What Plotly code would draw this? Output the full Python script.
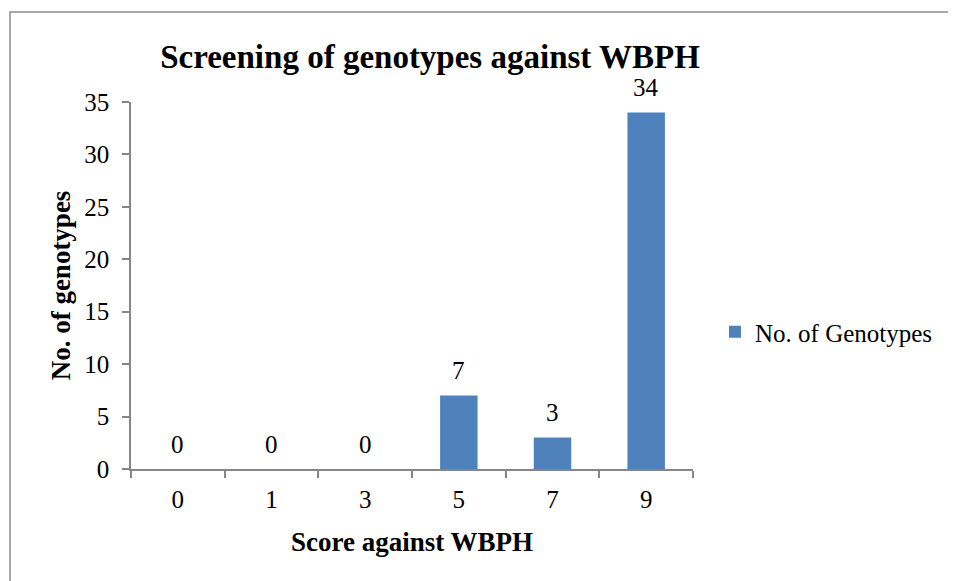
import plotly.graph_objects as go

categories = ["0", "1", "3", "5", "7", "9"]
values = [0, 0, 0, 7, 3, 34]
series_name = "No. of Genotypes"
y_ticks = [0, 5, 10, 15, 20, 25, 30, 35]

# the page body adds an 8px offset; figure is sized to fit the window
W, H = 948, 573
L, R, T, B = 123, 263, 94, 112
pw, ph = W - L - R, H - T - B

font_family = "Liberation Serif, Times New Roman, serif"
axis_col = "#868686"
reg = 25

fig = go.Figure()
fig.add_trace(go.Bar(
    x=categories, y=values, name=series_name,
    marker=dict(color="#4F81BD", line=dict(width=0)),
    showlegend=True,
))

annotations = []
for i, v in enumerate(values):
    annotations.append(dict(
        x=i, y=v, xref="x", yref="y", text=str(v), showarrow=False,
        yanchor="middle", yshift=25,
        font=dict(family=font_family, size=reg, color="black"),
    ))

# chart area outline
shapes = [dict(
    type="rect", xref="paper", yref="paper",
    x0=(2 - L) / pw, x1=(W + 30 - L) / pw,
    y0=-(B + 30) / ph, y1=(H - B - 4) / ph,
    line=dict(color="#8c8c8c", width=1.5), fillcolor="rgba(0,0,0,0)",
    layer="below",
)]

fig.update_layout(
    width=W, height=H,
    margin=dict(l=L, r=R, t=T, b=B),
    paper_bgcolor="white", plot_bgcolor="white",
    font=dict(family=font_family, size=reg, color="black"),
    title=dict(
        text="<b>Screening of genotypes against WBPH</b>",
        font=dict(family=font_family, size=33, color="black"),
        x=422 / W, xanchor="center", y=1 - 48 / H, yanchor="middle",
    ),
    bargap=0.6,
    xaxis=dict(
        type="category", categoryorder="array", categoryarray=categories,
        range=[-0.5, len(categories) - 0.5],
        showline=True, linecolor=axis_col, linewidth=1.5,
        ticks="outside", tickson="boundaries", ticklen=7, tickcolor=axis_col, tickwidth=1.5,
        ticklabelstandoff=7,
        tickfont=dict(family=font_family, size=reg, color="black"),
        showgrid=False, zeroline=False,
        title=dict(text="<b>Score against WBPH</b>", standoff=20,
                   font=dict(family=font_family, size=27, color="black")),
    ),
    yaxis=dict(
        range=[0, 35], tickvals=y_ticks,
        showline=True, linecolor=axis_col, linewidth=1.5,
        ticks="outside", ticklen=7, tickcolor=axis_col, tickwidth=1.5,
        ticklabelstandoff=8,
        tickfont=dict(family=font_family, size=reg, color="black"),
        showgrid=False, zeroline=False,
        title=dict(text="<b>No. of genotypes</b>", standoff=6,
                   font=dict(family=font_family, size=27, color="black")),
    ),
    legend=dict(
        x=(707 - L) / pw, xanchor="left", y=(H - B - 324) / ph, yanchor="middle",
        font=dict(family=font_family, size=reg, color="black"),
        bgcolor="rgba(0,0,0,0)", itemwidth=30,
    ),
    annotations=annotations,
    shapes=shapes,
)

fig.write_html("out.html")
